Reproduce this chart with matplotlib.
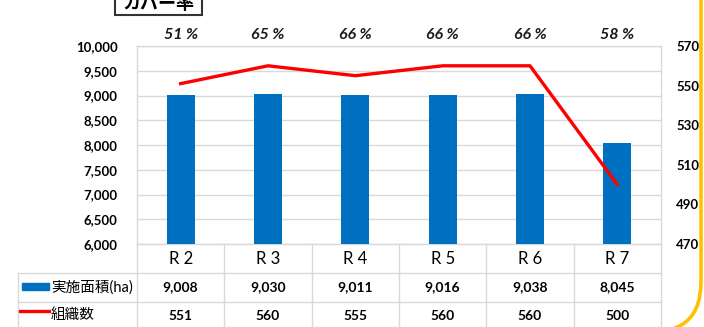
import matplotlib
matplotlib.use("Agg")
import matplotlib.pyplot as plt
from matplotlib.patches import Rectangle, PathPatch
from matplotlib.path import Path
from matplotlib.lines import Line2D
from matplotlib.transforms import Affine2D, blended_transform_factory

plt.rcParams['font.family'] = ['Lato', 'Noto Sans CJK JP', 'DejaVu Sans']

# data
nendo = ['R 2', 'R 3', 'R 4', 'R 5', 'R 6', 'R 7']
menseki = [9008, 9030, 9011, 9016, 9038, 8045]
soshiki = [551, 560, 555, 560, 560, 500]
cover = ['51 %', '65 %', '66 %', '66 %', '66 %', '58 %']
bar_name = '実施面積(ha)'
line_name = '組織数'

W, H = 704, 327
fig = plt.figure(figsize=(W / 100, H / 100), dpi=100)
# pixel layout transform (y downward)
T = Affine2D().scale(1, -1).translate(0, H).scale(1 / W, 1 / H) + fig.transFigure

ax_l, ax_r, ax_t, ax_b = 137, 661, 46, 244
ax = fig.add_axes([ax_l / W, 1 - ax_b / H, (ax_r - ax_l) / W, (ax_b - ax_t) / H])
ax2 = ax.twinx()

grid_c = '#D9D9D9'
x = list(range(len(nendo)))
ax.bar(x, menseki, width=0.32, color='#0070C0', zorder=3)
ax.set_xlim(-0.5, len(nendo) - 0.5)
ax.set_ylim(6000, 10000)
ax.set_yticks(range(6000, 10001, 500))
ax.set_yticklabels([f'{v:,}' for v in range(6000, 10001, 500)])
ax.yaxis.grid(True, color=grid_c, lw=1)
ax.set_axisbelow(True)
ax.set_xticks([])
ax.tick_params(axis='y', length=0, pad=14, labelsize=9.5, labelcolor='#000000')
for lab in ax.get_yticklabels():
    lab.set_fontweight('bold')
for s in ax.spines.values():
    s.set_color(grid_c)
    s.set_linewidth(1)

ax2.plot(x, soshiki, color='#FF0000', lw=2.4, zorder=4)
ax2.set_ylim(470, 570)
ax2.set_yticks(range(470, 571, 20))
ax2.tick_params(axis='y', length=0, pad=11, labelsize=9.5)
for lab in ax2.get_yticklabels():
    lab.set_fontweight('bold')
for s in ax2.spines.values():
    s.set_visible(False)

# coverage labels above plot
bt = blended_transform_factory(ax.transData, T)
for i, c in enumerate(cover):
    fig.text(i, 35, c, transform=bt, ha='center', va='center',
             fontsize=11.5, fontweight='bold', fontstyle='italic', color='#1a1a1a')

# data table below
row1, row2, row_end = 273, 302, 330
for i in range(len(nendo) + 1):
    fig.add_artist(Line2D([i - 0.5, i - 0.5], [ax_b, row_end], transform=bt, color=grid_c, lw=1))
fig.add_artist(Line2D([18, 18], [row1, row_end], transform=T, color=grid_c, lw=1))
for yy in (row1, row2):
    fig.add_artist(Line2D([18, ax_r], [yy, yy], transform=T, color=grid_c, lw=1))
for i in x:
    fig.text(i, (ax_b + row1) / 2 + 1, nendo[i], transform=bt, ha='center', va='center', fontsize=12)
    fig.text(i, (row1 + row2) / 2, f'{menseki[i]:,}', transform=bt, ha='center', va='center',
             fontsize=10, fontweight='bold')
    fig.text(i, (row2 + H) / 2 + 1, str(soshiki[i]), transform=bt, ha='center', va='center',
             fontsize=10, fontweight='bold')
fig.add_artist(Rectangle((22, 283), 27, 7, transform=T, color='#0070C0'))
fig.add_artist(Line2D([20, 49], [311, 311], transform=T, color='#FF0000', lw=2.4))
fig.text(51, (row1 + row2) / 2, bar_name, transform=T, ha='left', va='center', fontsize=10.5)
fig.text(51, (row2 + H) / 2, line_name, transform=T, ha='left', va='center', fontsize=10.5)

# title box cut at top
fig.add_artist(Rectangle((115, -20), 87, 35, transform=T, fill=False, ec='#333333', lw=1.5))
fig.text(158.5, 3, 'カバー率', transform=T, ha='center', va='center', fontsize=13, fontweight='bold')

# yellow rounded frame on the right
frame = Path([(701, -10), (701, 282), (701, 332), (651, 332)],
             [Path.MOVETO, Path.LINETO, Path.CURVE3, Path.CURVE3])
fig.add_artist(PathPatch(frame, transform=T, fill=False, ec='#FFC000', lw=2.6))

fig.savefig('out.png', dpi=100)
